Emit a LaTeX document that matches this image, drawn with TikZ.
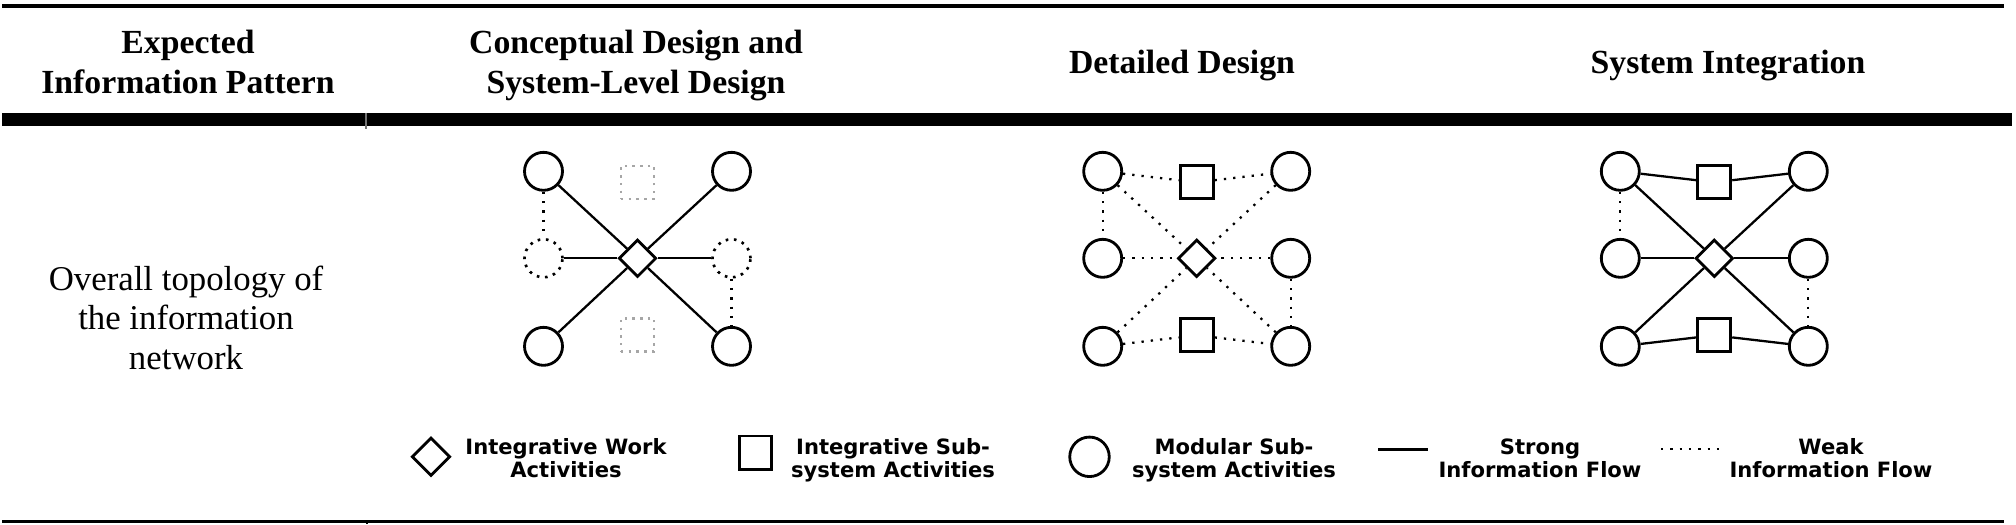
\documentclass[tikz,border=0pt]{standalone}
\usepackage{fontspec}
\setmainfont{Liberation Serif}
\newfontfamily\legendfont{DejaVu Sans}
\usetikzlibrary{shapes.geometric}

\tikzset{
    modcirc/.style={circle,draw,line width=0.8pt,inner sep=0pt,minimum size=3.8mm},
    dotcirc/.style={circle,draw,line width=0.75pt,dash pattern=on 0.75pt off 1.6pt,inner sep=0pt,minimum size=3.8mm},
    subsq/.style={rectangle,draw,line width=0.8pt,inner sep=0pt,minimum size=3.3mm},
    ghostsq/.style={rectangle,draw=black!35,line width=0.7pt,dash pattern=on 0.7pt off 1.5pt,inner sep=0pt,minimum size=3.3mm},
    intdiam/.style={diamond,draw,line width=0.8pt,inner sep=0pt,minimum size=3.75mm},
    strongflow/.style={line width=0.65pt},
    weakflow/.style={line width=0.65pt,dash pattern=on 0.65pt off 2pt},
    hdtext/.style={font=\bfseries\fontsize{9.6pt}{11.38pt}\selectfont,align=center,anchor=base,inner sep=0pt},
    rowtext/.style={font=\fontsize{9.9pt}{11.2pt}\selectfont,align=center,anchor=base,inner sep=0pt},
    legtext/.style={font=\legendfont\bfseries\fontsize{6pt}{6.35pt}\selectfont,align=center,anchor=base,inner sep=0pt}
}

\begin{document}
\begin{tikzpicture}[x=0.1mm,y=-0.1mm]
    \useasboundingbox (0,0) rectangle (2016,524);

    % table rules
    \draw[line width=0.4mm] (2,6) -- (2004,6);
    \draw[line width=1.3mm] (2,119.5) -- (2012,119.5);
    \draw[line width=0.3mm] (2,521.5) -- (2004,521.5);
    \draw[black!55,line width=0.2mm] (366,113) -- (366,129);
    \draw[line width=0.2mm] (367,521.5) -- (367,524);

    % header row (base = last line)
    \node[hdtext] (hpat) at (188,93) {Expected\\Information Pattern};
    \node[hdtext] (hcon) at (636,93) {Conceptual Design and\\System-Level Design};
    \node[hdtext] (hdet) at (1182,73) {Detailed Design};
    \node[hdtext] (hsys) at (1728,73) {System Integration};

    \node[rowtext] (rowlbl) at (186,369) {Overall topology of\\the information\\network};

    % conceptual design and system-level design
    \begin{scope}[shift={(637.5,258.3)}]
        \node[modcirc] (a-tl) at (-94,-87) {};
        \node[modcirc] (a-tr) at (94,-87) {};
        \node[dotcirc] (a-ml) at (-94,0) {};
        \node[dotcirc] (a-mr) at (94,0) {};
        \node[modcirc] (a-bl) at (-94,88) {};
        \node[modcirc] (a-br) at (94,88) {};
        \node[ghostsq] (a-ts) at (0,-76) {};
        \node[ghostsq] (a-bs) at (0,76.5) {};
        \node[intdiam] (a-c) at (0,0) {};
        \foreach \n in {tl,tr,ml,mr,bl,br}
            \draw[strongflow] (a-\n) -- (a-c);
        \draw[weakflow] (a-tl) -- (a-ml);
        \draw[weakflow] (a-mr) -- (a-br);
    \end{scope}

    % detailed design
    \begin{scope}[shift={(1196.7,258.3)}]
        \node[modcirc] (b-tl) at (-94,-87) {};
        \node[modcirc] (b-tr) at (94,-87) {};
        \node[modcirc] (b-ml) at (-94,0) {};
        \node[modcirc] (b-mr) at (94,0) {};
        \node[modcirc] (b-bl) at (-94,88) {};
        \node[modcirc] (b-br) at (94,88) {};
        \node[subsq] (b-ts) at (0,-76) {};
        \node[subsq] (b-bs) at (0,77) {};
        \node[intdiam] (b-c) at (0,0) {};
        \foreach \n in {tl,tr,ml,mr,bl,br}
            \draw[weakflow] (b-\n) -- (b-c);
        \foreach \p/\q in {tl/ts,ts/tr,bl/bs,bs/br,tl/ml,mr/br}
            \draw[weakflow] (b-\p) -- (b-\q);
    \end{scope}

    % system integration
    \begin{scope}[shift={(1714.3,258.3)}]
        \node[modcirc] (c-tl) at (-94,-87) {};
        \node[modcirc] (c-tr) at (94,-87) {};
        \node[modcirc] (c-ml) at (-94,0) {};
        \node[modcirc] (c-mr) at (94,0) {};
        \node[modcirc] (c-bl) at (-94,88) {};
        \node[modcirc] (c-br) at (94,88) {};
        \node[subsq] (c-ts) at (0,-76) {};
        \node[subsq] (c-bs) at (0,77) {};
        \node[intdiam] (c-c) at (0,0) {};
        \foreach \n in {tl,tr,ml,mr,bl,br}
            \draw[strongflow] (c-\n) -- (c-c);
        \foreach \p/\q in {tl/ts,ts/tr,bl/bs,bs/br}
            \draw[strongflow] (c-\p) -- (c-\q);
        \draw[weakflow] (c-tl) -- (c-ml);
        \draw[weakflow] (c-mr) -- (c-br);
    \end{scope}

    % legend
    \node[intdiam,minimum size=3.85mm] (kdiam) at (431,456.7) {};
    \node[legtext] (kdiamtxt) at (566,477) {Integrative Work\\Activities};
    \node[subsq,minimum width=3.25mm,minimum height=3.35mm] (ksq) at (755.5,452.7) {};
    \node[legtext] (ksqtxt) at (893,477) {Integrative Sub-\\system Activities};
    \node[modcirc,minimum size=3.95mm] (kcirc) at (1089.5,456.8) {};
    \node[legtext] (kcirctxt) at (1234,477) {Modular Sub-\\system Activities};
    \coordinate (kstrA) at (1378,449);
    \coordinate (kstrB) at (1428,449);
    \draw[line width=0.85pt] (kstrA) -- (kstrB);
    \node[legtext] (kstrtxt) at (1540,477) {Strong\\Information Flow};
    \coordinate (kweakA) at (1661,449);
    \coordinate (kweakB) at (1721,449);
    \draw[weakflow] (kweakA) -- (kweakB);
    \node[legtext] (kweaktxt) at (1831,477) {Weak\\Information Flow};
\end{tikzpicture}
\end{document}
